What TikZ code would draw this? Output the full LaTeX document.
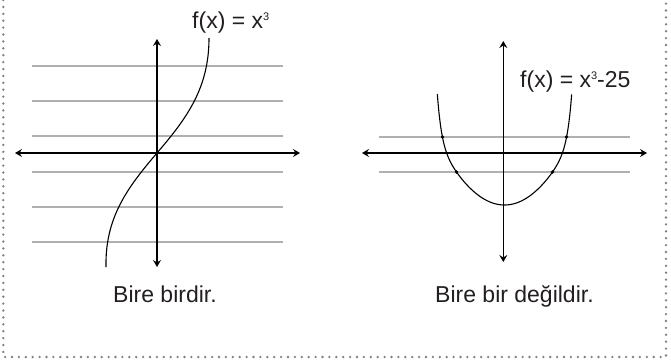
\documentclass[tikz,border=0pt]{standalone}
\usepackage{fontspec}
\setmainfont{Liberation Sans}
\usetikzlibrary{arrows.meta}
\definecolor{txt}{HTML}{231F20}
\definecolor{guide}{HTML}{B0B0B0}
\definecolor{frame}{HTML}{808080}
\tikzset{
  axis/.style={line width=1.1pt, draw=black, {Stealth[length=7pt,width=8pt,inset=2.5pt]}-{Stealth[length=7pt,width=8pt,inset=2.5pt]}},
  guideline/.style={line width=1.2pt, draw=guide},
  curve/.style={line width=1.1pt, draw=black},
  lbl/.style={font=\fontsize{23}{27}\selectfont, text=txt, inner sep=0pt, anchor=base west},
  isect/.style={circle, fill=black, inner sep=0pt, minimum size=3.8pt},
  border/.style={draw=frame, line width=2.6pt, line cap=round, dash pattern=on 0pt off 6.9pt}
}
\newcommand{\supthree}{\raisebox{7.5pt}{\fontsize{11}{11}\selectfont 3}}
\begin{document}
\begin{tikzpicture}[x=1pt,y=-1pt]
\useasboundingbox (0,0) rectangle (671,359);
\fill[white] (0,0) rectangle (671,359);
% border (open at top)
\coordinate (bTL) at (3.3,0);
\coordinate (bBL) at (3.3,357);
\coordinate (bBR) at (666,357);
\coordinate (bTR) at (666,0);
\draw[border] (bTL) -- (bBL) -- (bBR) -- (bTR);

% ---------- left graph ----------
\foreach \yy in {66,101,136,172,207,242}
  \draw[guideline] (32,\yy) -- (283,\yy);
\coordinate (LxL) at (15,153);
\coordinate (LxR) at (300,153);
\coordinate (LyT) at (157,39);
\coordinate (LyB) at (157,267);
\coordinate (LO) at (157,153);
\draw[axis] (LxL) -- (LxR);
\draw[axis] (LyB) -- (LyT);
\coordinate (Lbot) at (106,267);
\coordinate (Ltop) at (209,38);
\draw[curve] (Lbot) .. controls (105,218) and (127,188) .. (LO)
                    .. controls (187,118) and (209,88) .. (Ltop);
\node[lbl] (Lf) at (192,28) {f(x) = x\supthree};
\node[lbl] (Lt) at (113,302) {Bire birdir.};

% ---------- right graph ----------
\foreach \yy in {137,172}
  \draw[guideline] (379,\yy) -- (630,\yy);
\coordinate (RxL) at (362,153);
\coordinate (RxR) at (647,153);
\coordinate (RyT) at (503.3,41);
\coordinate (RyB) at (503.3,262);
\draw[axis] (RxL) -- (RxR);
\draw[axis] (RyB) -- (RyT);
\draw[curve] plot[domain=-1:1, samples=121, smooth]
  ({504.5+67.2*\x}, {205-64.3*\x*\x-46.7*(\x*\x)^8});
\node[isect] (d1) at (442.5,137) {};
\node[isect] (d2) at (566.5,137) {};
\node[isect] (d3) at (456.5,172) {};
\node[isect] (d4) at (552.5,172) {};
\node[lbl] (Rf) at (520,87) {f(x) = x\supthree-25};
\node[lbl] (Rt) at (435,302) {Bire bir değildir.};
\end{tikzpicture}
\end{document}
